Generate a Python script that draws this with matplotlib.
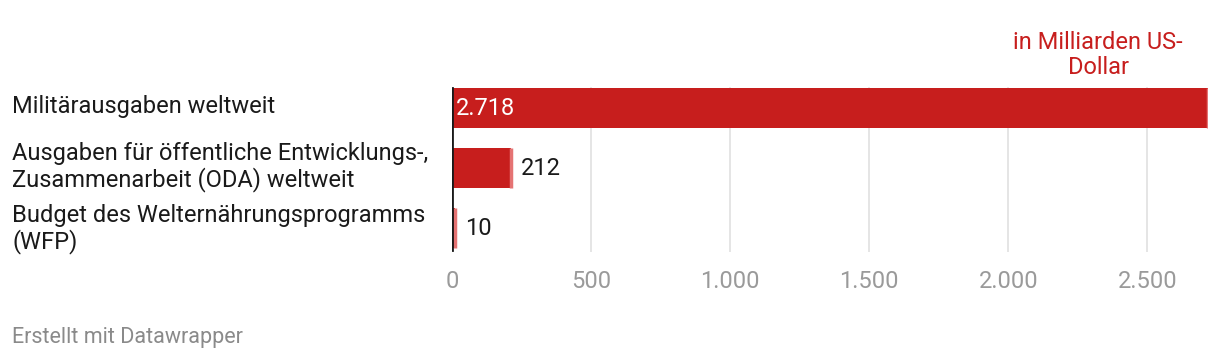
import matplotlib.pyplot as plt

# data
categories = [
    "Militärausgaben weltweit",
    "Ausgaben für öffentliche Entwicklungs-,\nZusammenarbeit (ODA) weltweit",
    "Budget des Welternährungsprogramms\n(WFP)",
]
values = [2718, 212, 10]
value_labels = ["2.718", "212", "10"]
xticks = [0, 500, 1000, 1500, 2000, 2500]
xtick_labels = ["0", "500", "1.000", "1.500", "2.000", "2.500"]

RED = "#c71e1d"
EDGE = "#e57373"
plt.rcParams["font.family"] = ["Roboto", "DejaVu Sans"]

fig = plt.figure(figsize=(12.2, 3.64), dpi=100)
ax = fig.add_axes([452 / 1220, 1 - 252 / 364, 756 / 1220, 172 / 364])

pos = [0, 1, 2]
h = 0.667
ax.barh(pos, values, height=h, color=RED, zorder=2)
for y, v in zip(pos, values):
    ax.plot([v, v], [y - h / 2, y + h / 2], color=EDGE, lw=2.5,
            solid_capstyle="butt", zorder=3)

ax.set_xlim(0, values[0])
ax.set_ylim(2.4, -0.467)

# gridlines + zero line
for x in xticks[1:]:
    ax.plot([x, x], [-h / 2, 2.4], color="#e0e0e0", lw=1.2, zorder=1)
ax.plot([0, 0], [-h / 2, 2.37], color="#1a1a1a", lw=2, zorder=4)

# value labels
ax.text(14, pos[0], value_labels[0], color="white", fontsize=17,
        va="center", ha="left", zorder=5)
for y, v, lab in zip(pos[1:], values[1:], value_labels[1:]):
    ax.text(v + 36, y, lab, color="#1a1a1a", fontsize=17,
            va="center", ha="left", zorder=5)

ax.set_xticks(xticks)
ax.set_xticklabels(xtick_labels, fontsize=17, color="#9a9a9a")
ax.set_yticks([])
ax.tick_params(axis="x", length=0, pad=13)
for s in ax.spines.values():
    s.set_visible(False)

# category labels on the left
for y, c in zip(pos, categories):
    yfig = 1 - (107 + 60 * y + (2 if y == 2 else 0)) / 364
    fig.text(12 / 1220, yfig, c, fontsize=17, color="#1a1a1a",
             va="center", ha="left", linespacing=1.1)

fig.text(1098 / 1220, 1 - 55 / 364, "in Milliarden US-\nDollar", color=RED,
         fontsize=17, ha="center", va="center", linespacing=1.1)
fig.text(12 / 1220, 1 - 338 / 364, "Erstellt mit Datawrapper", color="#8a8a8a",
         fontsize=15.5, ha="left", va="center")

fig.savefig("out.png", dpi=100)
